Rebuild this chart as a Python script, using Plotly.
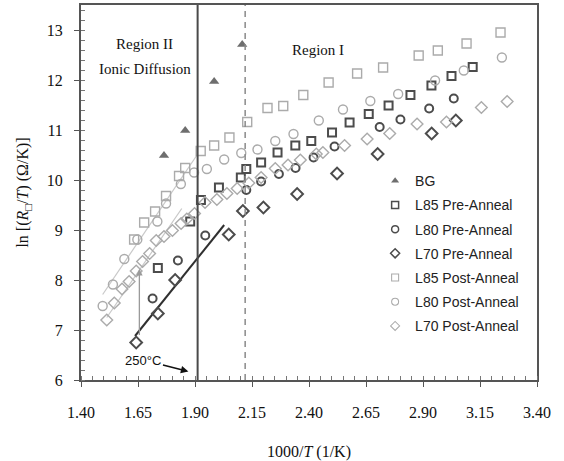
import plotly.graph_objects as go

# ---------------- data ----------------
bg_x = [1.764, 1.857, 1.984, 2.107]
bg_y = [10.49, 10.99, 11.97, 12.71]

l85_post_x = [1.633, 1.677, 1.725, 1.773, 1.830, 1.857, 1.925, 1.984, 2.051, 2.129, 2.218, 2.287,
              2.375, 2.486, 2.611, 2.725, 2.881, 2.965, 3.091, 3.240]
l85_post_y = [8.81, 9.15, 9.37, 9.68, 10.08, 10.24, 10.58, 10.69, 10.85, 11.16, 11.44, 11.48,
              11.70, 11.95, 12.13, 12.25, 12.49, 12.59, 12.73, 12.95]

l80_post_x = [1.495, 1.540, 1.590, 1.647, 1.735, 1.773, 1.838, 1.896, 1.952, 2.028, 2.103, 2.174,
              2.252, 2.332, 2.443, 2.549, 2.669, 2.791, 2.953, 3.079, 3.246]
l80_post_y = [7.48, 7.91, 8.42, 8.81, 9.17, 9.53, 9.92, 10.15, 10.22, 10.41, 10.54, 10.61,
              10.78, 10.92, 11.19, 11.41, 11.58, 11.72, 11.99, 12.19, 12.45]

l70_post_x = [1.513, 1.546, 1.580, 1.611, 1.642, 1.670, 1.701, 1.730, 1.764, 1.801, 1.839, 1.864,
              1.898, 1.944, 1.996, 2.040, 2.085, 2.136, 2.190, 2.252, 2.308, 2.362, 2.432, 2.461,
              2.556, 2.655, 2.754, 2.874, 3.003, 3.156, 3.269]
l70_post_y = [7.20, 7.54, 7.82, 7.97, 8.18, 8.37, 8.53, 8.79, 8.87, 8.99, 9.13, 9.22,
              9.33, 9.55, 9.61, 9.73, 9.83, 9.94, 10.05, 10.23, 10.30, 10.40, 10.52, 10.55,
              10.69, 10.82, 10.93, 11.12, 11.16, 11.45, 11.57]

l85_pre_x = [1.737, 1.879, 1.926, 2.005, 2.101, 2.125, 2.190, 2.262, 2.340, 2.410, 2.501, 2.578,
             2.662, 2.749, 2.845, 2.937, 3.025, 3.118]
l85_pre_y = [8.24, 9.17, 9.60, 9.85, 10.05, 10.22, 10.35, 10.55, 10.69, 10.78, 10.95, 11.15,
             11.32, 11.49, 11.70, 11.89, 12.08, 12.26]

l80_pre_x = [1.714, 1.825, 1.945, 2.125, 2.190, 2.268, 2.341, 2.420, 2.512, 2.710, 2.801, 2.927, 3.035]
l80_pre_y = [7.63, 8.39, 8.89, 9.80, 9.97, 10.12, 10.24, 10.45, 10.67, 11.06, 11.21, 11.43, 11.63]

l70_pre_x = [1.642, 1.737, 1.813, 2.048, 2.110, 2.200, 2.348, 2.523, 2.701, 2.938, 3.044]
l70_pre_y = [6.75, 7.33, 8.00, 8.91, 9.38, 9.45, 9.72, 10.13, 10.52, 10.93, 11.19]

# linear fits drawn in region II (end points)
fit_pre_x = [1.637, 2.028]
fit_pre_y = [6.88, 9.10]
fit_post_a_x = [1.495, 1.909]
fit_post_a_y = [7.71, 10.50]
fit_post_b_x = [1.513, 1.842]
fit_post_b_y = [7.25, 9.43]

x_ticks = [1.40, 1.65, 1.90, 2.15, 2.40, 2.65, 2.90, 3.15, 3.40]
boundary_solid = 1000 / (250 + 273.15)
boundary_dashed = 2.12

DARK = "#4c4c4c"
LIGHT = "#ababab"

fig = go.Figure()

def add_series(x, y, symbol, color, fill, lw, size, name):
    fig.add_trace(go.Scatter(
        x=x, y=y, mode="markers", showlegend=False,
        marker=dict(symbol=symbol, size=size, color=fill,
                    line=dict(color=color, width=lw))))

# fit lines
for fx, fy, c, w in [(fit_post_a_x, fit_post_a_y, "#c8c8c8", 1.2),
                     (fit_post_b_x, fit_post_b_y, "#c8c8c8", 1.2),
                     (fit_pre_x, fit_pre_y, "#303030", 2)]:
    fig.add_trace(go.Scatter(x=fx, y=fy, mode="lines", showlegend=False,
                             line=dict(color=c, width=w)))

series = [
    (bg_x, bg_y, "triangle-up", "#6e6e6e", "#6e6e6e", 0, 9, "BG"),
    (l85_pre_x, l85_pre_y, "square-open", DARK, DARK, 2, 8, "L85 Pre-Anneal"),
    (l80_pre_x, l80_pre_y, "circle-open", DARK, DARK, 2, 8, "L80 Pre-Anneal"),
    (l70_pre_x, l70_pre_y, "diamond-open", DARK, DARK, 2, 9, "L70 Pre-Anneal"),
    (l85_post_x, l85_post_y, "square-open", LIGHT, LIGHT, 1.4, 9, "L85 Post-Anneal"),
    (l80_post_x, l80_post_y, "circle-open", LIGHT, LIGHT, 1.4, 9, "L80 Post-Anneal"),
    (l70_post_x, l70_post_y, "diamond-open", LIGHT, LIGHT, 1.4, 9, "L70 Post-Anneal"),
]
for s in series:
    add_series(*s)

# legend entries (smaller symbols)
for i, (x, y, sym, c, f, lw, sz, name) in enumerate(series):
    fig.add_trace(go.Scatter(
        x=[None], y=[None], mode="markers", name=name, legendgroup=name,
        marker=dict(symbol=sym, size=7, color=f, line=dict(color=c, width=lw * 0.75))))

# region boundaries
fig.add_shape(type="line", xref="x", yref="paper", x0=boundary_solid, x1=boundary_solid,
              y0=0, y1=1, line=dict(color="#4a4a4a", width=2))
fig.add_shape(type="line", xref="x", yref="paper", x0=boundary_dashed, x1=boundary_dashed,
              y0=0, y1=1, line=dict(color="#8a8a8a", width=1.5, dash="6px,5px"))

serif = "Liberation Serif, Times New Roman, serif"
sans = "Liberation Sans, Arial, sans-serif"

fig.add_annotation(x=1.68, y=12.73, text="Region II", showarrow=False,
                   font=dict(family=serif, size=15, color="#111"))
fig.add_annotation(x=1.68, y=12.23, text="Ionic Diffusion", showarrow=False,
                   font=dict(family=serif, size=15, color="#111"))
fig.add_annotation(x=2.44, y=12.60, text="Region I", showarrow=False,
                   font=dict(family=serif, size=15, color="#111"))

# gray vertical arrow
fig.add_annotation(x=1.656, y=8.22, ax=1.656, ay=6.87, xref="x", yref="y", axref="x", ayref="y",
                   text="", showarrow=True, arrowhead=2, arrowsize=1, arrowwidth=1.3,
                   arrowcolor="#9a9a9a")
# 250 C label with arrow pointing to the boundary
fig.add_annotation(x=1.871, y=6.17, ax=1.674, ay=6.40, xref="x", yref="y", axref="x", ayref="y",
                   text="250°C", showarrow=True, arrowhead=2, arrowsize=1, arrowwidth=1.5,
                   arrowcolor="#111", font=dict(family=sans, size=13, color="#111"))

fig.update_layout(
    width=564, height=461,
    margin=dict(l=81, r=27, t=5, b=81),
    paper_bgcolor="white", plot_bgcolor="white",
    legend=dict(x=0.645, y=0.573, xanchor="left", yanchor="top",
                font=dict(family=sans, size=14, color="#222"),
                bgcolor="rgba(0,0,0,0)", tracegroupgap=3, traceorder="grouped",
                itemwidth=30),
)
fig.update_xaxes(
    range=[1.40, 3.40], tickvals=x_ticks, ticktext=[f"{v:.2f}" for v in x_ticks],
    automargin=False,
    showgrid=False, zeroline=False, showline=True, mirror=True, linecolor="#555", linewidth=2,
    ticks="outside", ticklen=5, tickcolor="#555", tickwidth=1.2,
    minor=dict(dtick=0.05, tick0=1.40, ticks="inside", ticklen=4, tickcolor="#777", tickwidth=1),
    tickfont=dict(family=serif, size=16, color="#111"),
    ticklabelstandoff=12,
    title=dict(text="1000/<i>T</i> (1/K)", font=dict(family=serif, size=16, color="#111"), standoff=28),
)
fig.update_yaxes(
    range=[6, 13.5], dtick=1, tick0=6,
    automargin=False,
    showgrid=False, zeroline=False, showline=True, mirror=True, linecolor="#555", linewidth=2,
    ticks="outside", ticklen=5, tickcolor="#555", tickwidth=1.2,
    minor=dict(dtick=0.2, tick0=6, ticks="inside", ticklen=4, tickcolor="#777", tickwidth=1),
    tickfont=dict(family=serif, size=16, color="#111"),
    ticklabelstandoff=8,
    title=dict(text="ln [(<i>R</i><sub>□</sub>/<i>T</i>) (Ω/K)]",
               font=dict(family=serif, size=16, color="#111"), standoff=14),
)

fig.write_html("out.html")
